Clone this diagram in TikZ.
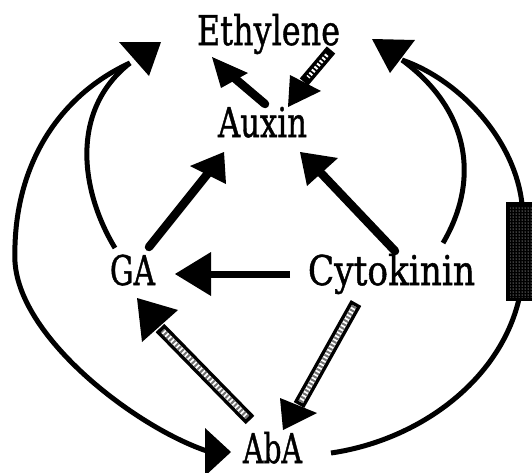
\documentclass[tikz,border=0pt]{standalone}
\usepackage{fontspec}
\setmainfont[FakeBold=1.2]{DejaVu Serif}
\usetikzlibrary{patterns,calc}
\newcommand\fitw[2]{\resizebox{#1}{\height}{#2}}
\begin{document}
\begin{tikzpicture}[x=1pt,y=-1pt,
  lbl/.style={inner sep=0pt, anchor=base, font=\fontsize{41}{41}\selectfont},
  shaft/.style={line width=8.5pt, line cap=round},
  curve/.style={line width=5pt},
  hshaft/.style={line width=12pt},
  hinner/.style={line width=5pt, white},
  hdots/.style={line width=5pt, black!55, dash pattern=on 2pt off 2pt},
  head/.style={fill=black}]
\useasboundingbox (0,0) rectangle (532,472);
% labels
\node[lbl] (eth) at (268.5,45) {\fitw{143pt}{Ethylene}};
\node[lbl] (aux) at (262.5,137) {\fitw{89pt}{Auxin}};
\node[lbl] (ga)  at (132.5,285) {\fitw{45pt}{GA}};
\node[lbl] (cyt) at (391.5,285) {\fitw{167pt}{Cytokinin}};
\node[lbl] (aba) at (272.5,463) {\fitw{59pt}{AbA}};
% connector end points
\coordinate (auxUp)   at (265,104);
\coordinate (ethIn)   at (232,76);
\coordinate (ethOut)  at (331,50);
\coordinate (auxIn)   at (304,82);
\coordinate (gaUp)    at (149,247);
\coordinate (auxL)    at (209,172);
\coordinate (cytUp)   at (395,251);
\coordinate (auxR)    at (320,172);
\coordinate (cytL)    at (290,274);
\coordinate (gaR)     at (206,274);
\coordinate (abaUp)   at (250,420);
\coordinate (gaDown)  at (160,328);
\coordinate (cytDown) at (356,303);
\coordinate (abaIn)   at (299,405);
\coordinate (ethL)    at (130,63);
\coordinate (leftMid) at (15,262);
\coordinate (abaL)    at (210,452);
\coordinate (gaTop)   at (115,248);
\coordinate (ethR)    at (402,60);
\coordinate (cytTop)  at (443,243);
\coordinate (boxTop)  at (522,204);
\coordinate (boxBot)  at (519,299);
\coordinate (abaR)    at (331,453);
% Auxin -> Ethylene
\draw[shaft] (auxUp) -- (ethIn);
\fill[head] (212,57) -- (248,73) -- (221,88) -- cycle;
% Ethylene -> Auxin (hatched)
\draw[line width=11pt] (ethOut) -- (auxIn);
\draw[line width=4pt, white, dash pattern=on 2pt off 2pt] ($(ethOut)!0.15!(auxIn)$) -- ($(ethOut)!0.85!(auxIn)$);
\fill[head] (290,75) -- (321,91) -- (288,107) -- cycle;
% GA -> Auxin
\draw[shaft] (gaUp) -- (auxL);
\fill[head] (224,152) -- (190,166) -- (226,184) -- cycle;
% Cytokinin -> Auxin
\draw[shaft] (cytUp) -- (auxR);
\fill[head] (300,152) -- (338,158) -- (307,186) -- cycle;
% Cytokinin -> GA
\draw[line width=7pt] (cytL) -- (gaR);
\fill[head] (175,274) -- (211,252) -- (211,296) -- cycle;
% AbA -> GA (hatched)
\draw[hshaft] (abaUp) -- (gaDown);
\draw[hinner] ($(abaUp)!0.03!(gaDown)$) -- ($(abaUp)!0.97!(gaDown)$);
\draw[hdots] ($(abaUp)!0.03!(gaDown)$) -- ($(abaUp)!0.97!(gaDown)$);
\fill[head] (137,298) -- (178,310) -- (142,342) -- cycle;
% Cytokinin -> AbA (hatched)
\draw[hshaft] (cytDown) -- (abaIn);
\draw[hinner] ($(cytDown)!0.03!(abaIn)$) -- ($(cytDown)!0.97!(abaIn)$);
\draw[hdots] ($(cytDown)!0.03!(abaIn)$) -- ($(cytDown)!0.97!(abaIn)$);
\fill[head] (280,398) -- (317,413) -- (283,430) -- cycle;
% left curves
\draw[curve] (ethL) .. controls (60,95) and (12,165) .. (leftMid)
  .. controls (20,340) and (140,430) .. (abaL);
\fill[head] (205,428) -- (231,452) -- (205,476) -- cycle;
\draw[curve] (gaTop) .. controls (80,190) and (70,110) .. (ethL);
\fill[head] (119,42) -- (161,42) -- (149,76) -- cycle;
% right curves
\draw[curve] (cytTop) .. controls (480,180) and (470,110) .. (ethR);
\draw[curve] (ethR) .. controls (460,80) and (515,140) .. (boxTop);
\fill[head] (372,39) -- (415,40) -- (390,73) -- cycle;
\draw[curve] (boxBot) .. controls (500,380) and (420,440) .. (abaR);
% blocking box
\fill[black] (507,203) rectangle (536,300);
\fill[pattern=dots, pattern color=white] (510,206) rectangle (536,297);
\draw[line width=2pt] (507,203) rectangle (536,300);
\end{tikzpicture}
\end{document}
